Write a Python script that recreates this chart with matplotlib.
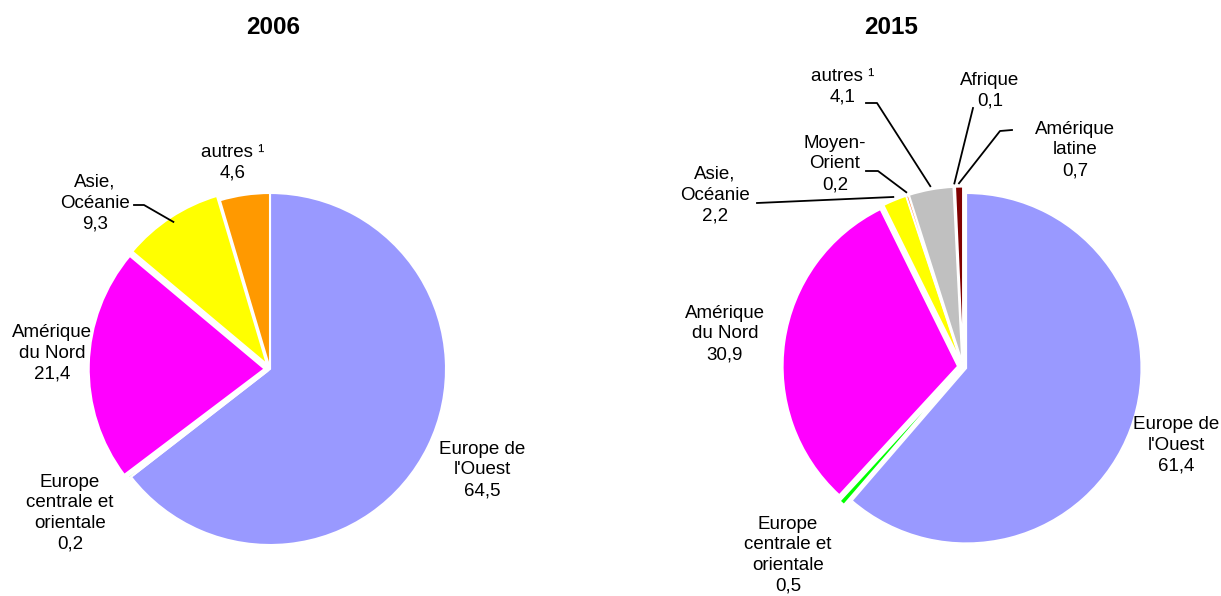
import numpy as np
import matplotlib
matplotlib.use('Agg')
import matplotlib.pyplot as plt

plt.rcParams['font.family'] = ['Liberation Sans', 'DejaVu Sans']

# 2006
labels_2006 = ["Europe de\nl'Ouest\n64,5", "Europe\ncentrale et\norientale\n0,2",
               "Amérique\ndu Nord\n21,4", "Asie,\nOcéanie\n9,3", "autres ¹\n4,6"]
values_2006 = [64.5, 0.2, 21.4, 9.3, 4.6]
colors_2006 = ['#9999FF', '#00FF00', '#FF00FF', '#FFFF00', '#FF9900']

# 2015
labels_2015 = ["Europe de\nl'Ouest\n61,4", "Europe\ncentrale et\norientale\n0,5",
               "Amérique\ndu Nord\n30,9", "Asie,\nOcéanie\n2,2", "Moyen-\nOrient\n0,2",
               "autres ¹\n4,1", "Afrique\n0,1", "Amérique\nlatine\n0,7"]
values_2015 = [61.4, 0.5, 30.9, 2.2, 0.2, 4.1, 0.1, 0.7]
colors_2015 = ['#9999FF', '#00FF00', '#FF00FF', '#FFFF00', '#FF6600',
               '#C0C0C0', '#993366', '#800000']

W, H = 1221, 596
fig = plt.figure(figsize=(W / 100, H / 100), dpi=100)


def make_ax(x0, x1):
    ax = fig.add_axes([x0 / W, 0, (x1 - x0) / W, 1])
    return ax


def set_lims(ax, x0, x1, cx, cy, r):
    ax.set_aspect('auto')
    ax.set_xlim((x0 - cx) / r, (x1 - cx) / r)
    ax.set_ylim((cy - H) / r, cy / r)
    ax.axis('off')


def to_data(px, py, cx, cy, r):
    return (px - cx) / r, (cy - py) / r


def edge_point(w, rr=1.0):
    a = np.deg2rad((w.theta1 + w.theta2) / 2)
    return w.center[0] + rr * np.cos(a), w.center[1] + rr * np.sin(a)


fs = 13.5
ls = 1.28

# ---- left pie ----
cxL, cyL, rL = 270, 369, 176
axL = make_ax(0, 610)
wL, _ = axL.pie(values_2006, colors=colors_2006, startangle=90, counterclock=False,
                explode=[0, 0.015, 0.03, 0.03, 0.0], radius=1,
                wedgeprops=dict(edgecolor='white', linewidth=1.5))
set_lims(axL, 0, 610, cxL, cyL, rL)
axL.text(*to_data(273, 28, cxL, cyL, rL), '2006', ha='center', va='center',
         fontsize=17.5, fontweight='bold')

pos_L = [(482, 470), (70, 513), (52, 353), (95, 203), (233, 163)]
for lab, (px, py) in zip(labels_2006, pos_L):
    axL.text(*to_data(px, py, cxL, cyL, rL), lab, ha='center', va='center',
             fontsize=fs, linespacing=ls)

# leader for Asie
p0 = to_data(134, 205, cxL, cyL, rL)
p1 = to_data(144, 205, cxL, cyL, rL)
p2 = edge_point(wL[3], 0.97)
axL.plot([p0[0], p1[0], p2[0]], [p0[1], p1[1], p2[1]], color='black', lw=1.3)

# ---- right pie ----
cxR, cyR, rR = 963, 367, 175
axR = make_ax(610, 1221)
wR, _ = axR.pie(values_2015, colors=colors_2015, startangle=90, counterclock=False,
                explode=[0.02, 0.04, 0.03, 0.03, 0.03, 0.03, 0.03, 0.03], radius=1,
                wedgeprops=dict(edgecolor='white', linewidth=1.2))
set_lims(axR, 610, 1221, cxR, cyR, rR)
axR.text(*to_data(891, 28, cxR, cyR, rR), '2015', ha='center', va='center',
         fontsize=17.5, fontweight='bold')

pos_R = [(1176, 445), (788, 555), (725, 334), (715, 195), (835, 164),
         (843, 87), (990, 91), (1075, 150)]
for lab, (px, py) in zip(labels_2015, pos_R):
    axR.text(*to_data(px, py, cxR, cyR, rR), lab, ha='center', va='center',
             fontsize=fs, linespacing=ls)

# leaders: (start, elbow, wedge index)
leaders_R = [((757, 203), (757, 203), 3),
             ((866, 171), (878, 171), 4),
             ((866, 103), (877, 103), 5),
             ((973, 108), (973, 108), 6),
             ((1012, 130), (1000, 131), 7)]
for s, e, i in leaders_R:
    p0 = to_data(*s, cxR, cyR, rR)
    p1 = to_data(*e, cxR, cyR, rR)
    p2 = edge_point(wR[i], 1.02)
    axR.plot([p0[0], p1[0], p2[0]], [p0[1], p1[1], p2[1]], color='black', lw=1.3)

fig.savefig('out.png', dpi=100)
